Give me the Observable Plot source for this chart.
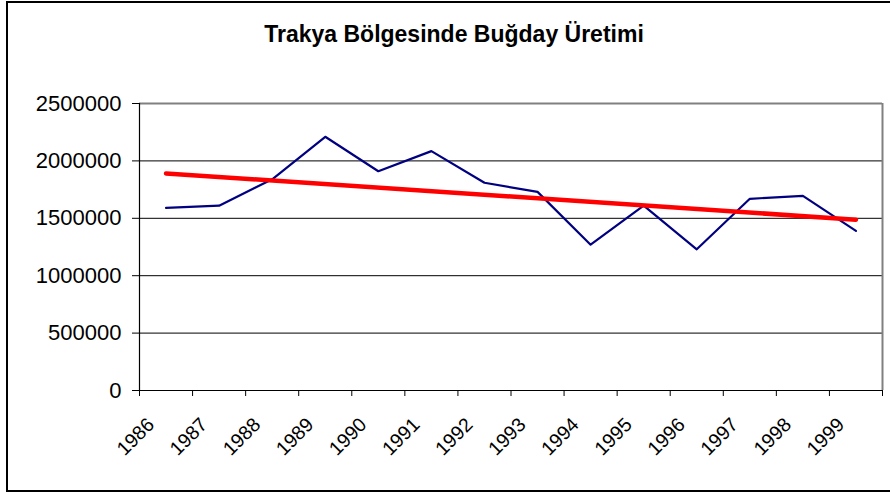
<!DOCTYPE html>
<html>
<head>
<meta charset="utf-8">
<script src="https://cdn.jsdelivr.net/npm/d3@7"></script>
<script src="https://cdn.jsdelivr.net/npm/@observablehq/plot@0.6"></script>
<style>
  html, body { margin: 0; padding: 0; background: #fff; }
  #wrap { position: relative; width: 890px; height: 492px; overflow: hidden; font-family: "Liberation Sans", Arial, sans-serif; }
  #frame { position: absolute; left: 6px; top: 1px; width: 900px; height: 491px; box-sizing: border-box; border: 2px solid #000; pointer-events: none; }
  #title { position: absolute; left: 0; width: 908px; top: 20px; line-height: 28px; font-size: 23px; font-weight: bold; text-align: center; color: #000; }
  #chart { position: absolute; left: 0; top: 0; }
</style>
</head>
<body>
<div id="wrap">
  <div id="chart"></div>
  <div id="frame"></div>
  <div id="title">Trakya Bölgesinde Buğday Üretimi</div>
</div>
<script>
const years = [1986, 1987, 1988, 1989, 1990, 1991, 1992, 1993, 1994, 1995, 1996, 1997, 1998, 1999];
const production = [1590000, 1610000, 1840000, 2210000, 1910000, 2085000, 1810000, 1730000, 1270000, 1610000, 1230000, 1670000, 1695000, 1390000];
const yTicks = [0, 500000, 1000000, 1500000, 2000000, 2500000];

const data = years.map((year, i) => ({year, value: production[i]}));
const xMin = years[0] - 0.5, xMax = years[years.length - 1] + 0.5;
const boundaries = d3.range(xMin, xMax + 0.01, 1);

const chart = Plot.plot({
  width: 890,
  height: 492,
  marginLeft: 139,
  marginRight: 8,
  marginTop: 103,
  marginBottom: 102,
  style: {fontFamily: "'Liberation Sans', Arial, sans-serif", background: "transparent", color: "#000"},
  x: {type: "linear", domain: [xMin, xMax]},
  y: {domain: [0, 2500000]},
  marks: [
    Plot.gridY(yTicks.slice(1, -1), {stroke: "#000", strokeOpacity: 1, strokeWidth: 1}),
    Plot.ruleY([yTicks[yTicks.length - 1]], {stroke: "#808080", strokeWidth: 2}),
    Plot.ruleX([xMax], {stroke: "#808080", strokeWidth: 2}),
    Plot.axisY({ticks: yTicks, tickSize: 7, tickPadding: 11, tickFormat: d => String(d), fontSize: 22, stroke: "#000", label: null}),
    Plot.axisX({ticks: boundaries, tickSize: 6, tickFormat: () => "", stroke: "#000", label: null}),
    Plot.axisX({ticks: years, tickSize: 0, tickFormat: d => String(d), tickRotate: -45, fontSize: 19.5, tickPadding: 22, dx: -15, dy: 9, label: null}),
    Plot.ruleX([xMin], {stroke: "#000", strokeWidth: 1.2}),
    Plot.ruleY([0], {stroke: "#000", strokeWidth: 1.2}),
    Plot.line(data, {x: "year", y: "value", stroke: "#000080", strokeWidth: 2.2}),
    Plot.linearRegressionY(data, {x: "year", y: "value", ci: 0, stroke: "#ff0000", strokeWidth: 4.5})
  ]
});
document.getElementById("chart").appendChild(chart);
</script>
</body>
</html>
